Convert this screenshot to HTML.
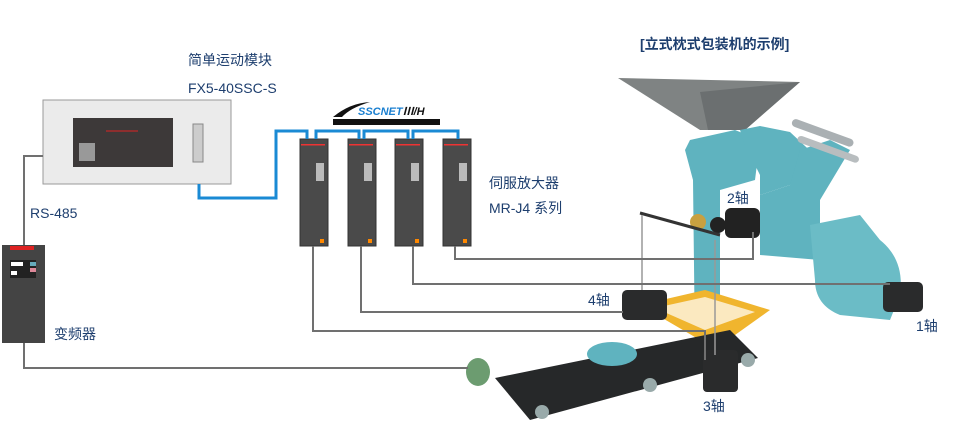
<!DOCTYPE html>
<html><head><meta charset="utf-8"><style>
body{margin:0;background:#fff;}
svg{display:block}
text{font-family:"Liberation Sans","Noto Sans CJK SC",sans-serif;fill:#1d3e6e;font-size:14px}
</style></head><body>
<svg width="954" height="425" viewBox="0 0 954 425" xmlns="http://www.w3.org/2000/svg">
<!-- machine -->
<polygon points="618,78 800,82 745,130 700,130" fill="#7f8383"/>
<polygon points="700,92 800,82 745,130 708,130" fill="#6b6f70"/>
<polygon points="690,140 735,130 760,140 755,180 720,190 720,350 695,350 693,180 685,150" fill="#5fb3bf"/>
<polygon points="745,145 740,130 760,126 790,132 820,160 790,185 760,195 760,175" fill="#5fb3bf"/>
<polygon points="790,185 800,150 830,140 850,150 820,200 820,260 760,255 760,195" fill="#5fb3bf"/>
<path d="M810,225 L860,215 L880,240 Q905,260 900,295 L890,320 L840,315 Q815,305 815,280 Z" fill="#6bbcc6"/>
<rect x="790" y="128" width="65" height="8" rx="4" fill="#aab0b3" transform="rotate(20 820 133)"/>
<rect x="795" y="143" width="65" height="7" rx="4" fill="#b8bdbf" transform="rotate(20 820 150)"/>
<polygon points="640,305 705,290 770,310 735,335 700,340" fill="#f0b52e"/>
<polygon points="655,308 705,297 755,312 705,330" fill="#ffffff" opacity=".7"/>
<polygon points="495,378 730,330 758,358 530,420" fill="#262829"/>
<circle cx="542" cy="412" r="7" fill="#9aa"/><circle cx="650" cy="385" r="7" fill="#9aa"/><circle cx="748" cy="360" r="7" fill="#9aa"/>
<ellipse cx="612" cy="354" rx="25" ry="12" fill="#5fb3bf"/>
<ellipse cx="478" cy="372" rx="12" ry="14" fill="#6c9c70"/>
<rect x="725" y="208" width="35" height="30" rx="6" fill="#222"/>
<circle cx="698" cy="222" r="8" fill="#c8a040"/><circle cx="718" cy="225" r="8" fill="#222"/>
<rect x="622" y="290" width="45" height="30" rx="5" fill="#2a2b2c"/>
<rect x="883" y="282" width="40" height="30" rx="5" fill="#2a2b2c"/>
<rect x="703" y="350" width="35" height="42" rx="4" fill="#2a2b2c"/>
<polyline points="640,213 720,235" stroke="#333" stroke-width="3" fill="none"/>
<line x1="642" y1="215" x2="642" y2="290" stroke="#999" stroke-width="1.5"/>
<line x1="715" y1="240" x2="715" y2="355" stroke="#999" stroke-width="1.5"/>
<!-- PLC -->
<rect x="43" y="100" width="188" height="84" fill="#ebebeb" stroke="#999"/>
<rect x="73" y="118" width="100" height="49" fill="#3d3939"/>
<rect x="79" y="143" width="16" height="18" fill="#999"/>
<line x1="106" y1="131" x2="138" y2="131" stroke="#d22" stroke-width="1"/>
<rect x="193" y="124" width="10" height="38" fill="#ccc" stroke="#888"/>
<!-- inverter -->
<rect x="2" y="245" width="43" height="98" fill="#444"/>
<rect x="10" y="246" width="24" height="4" fill="#d22"/>
<rect x="10" y="260" width="26" height="18" fill="#222"/>
<rect x="11" y="262" width="12" height="4" fill="#fff"/><rect x="11" y="271" width="6" height="4" fill="#fff"/>
<rect x="30" y="262" width="6" height="4" fill="#6ab"/><rect x="30" y="268" width="6" height="4" fill="#d89"/>
<!-- servos -->
<g fill="#4a4a4a" stroke="#333">
<rect x="300" y="139" width="28" height="107"/><rect x="348" y="139" width="28" height="107"/>
<rect x="395" y="139" width="28" height="107"/><rect x="443" y="139" width="28" height="107"/>
</g>
<g fill="#e33"><rect x="301" y="144" width="24" height="1.5"/><rect x="349" y="144" width="24" height="1.5"/><rect x="396" y="144" width="24" height="1.5"/><rect x="444" y="144" width="24" height="1.5"/></g>
<g fill="#f80"><rect x="320" y="239" width="4" height="4"/><rect x="368" y="239" width="4" height="4"/><rect x="415" y="239" width="4" height="4"/><rect x="463" y="239" width="4" height="4"/></g>
<g fill="#bbb"><rect x="316" y="163" width="8" height="18"/><rect x="364" y="163" width="8" height="18"/><rect x="411" y="163" width="8" height="18"/><rect x="459" y="163" width="8" height="18"/></g>
<!-- blue network -->
<polyline points="199,184 199,198 276,198 276,131 307,131 307,139" stroke="#1a8ad4" stroke-width="3" fill="none"/>
<polyline points="316,139 316,131 359,131 359,139" stroke="#1a8ad4" stroke-width="3" fill="none"/>
<polyline points="364,139 364,131 408,131 408,139" stroke="#1a8ad4" stroke-width="3" fill="none"/>
<polyline points="413,139 413,131 458,131 458,139" stroke="#1a8ad4" stroke-width="3" fill="none"/>
<!-- SSCNET logo -->
<rect x="333" y="119" width="107" height="6" fill="#111"/>
<path d="M333,117 Q350,103 370,102 Q350,108 342,117 Z" fill="#111"/>
<text x="358" y="115" style="font-size:11px;font-style:italic;font-weight:bold;fill:#1a7fd0">SSCNET<tspan style="fill:#111">Ⅲ/H</tspan></text>
<!-- grey lines -->
<g stroke="#707070" stroke-width="2" fill="none">
<polyline points="43,156 24,156 24,245"/>
<polyline points="24,343 24,368 468,368"/>
<polyline points="313,246 313,331 705,331 705,360"/>
<polyline points="361,246 361,312 623,312"/>
<polyline points="413,246 413,284 890,284"/>
<polyline points="455,246 455,259 753,259 753,232"/>
</g>
<!-- labels -->
<text x="188" y="65">简单运动模块</text>
<text x="188" y="93">FX5-40SSC-S</text>
<text x="30" y="218">RS-485</text>
<text x="54" y="339">变频器</text>
<text x="489" y="188">伺服放大器</text>
<text x="489" y="213">MR-J4 系列</text>
<text x="640" y="49" style="font-weight:bold">[立式枕式包装机的示例]</text>
<text x="727" y="203">2轴</text>
<text x="588" y="305">4轴</text>
<text x="916" y="331">1轴</text>
<text x="703" y="411">3轴</text>
</svg>
</body></html>
